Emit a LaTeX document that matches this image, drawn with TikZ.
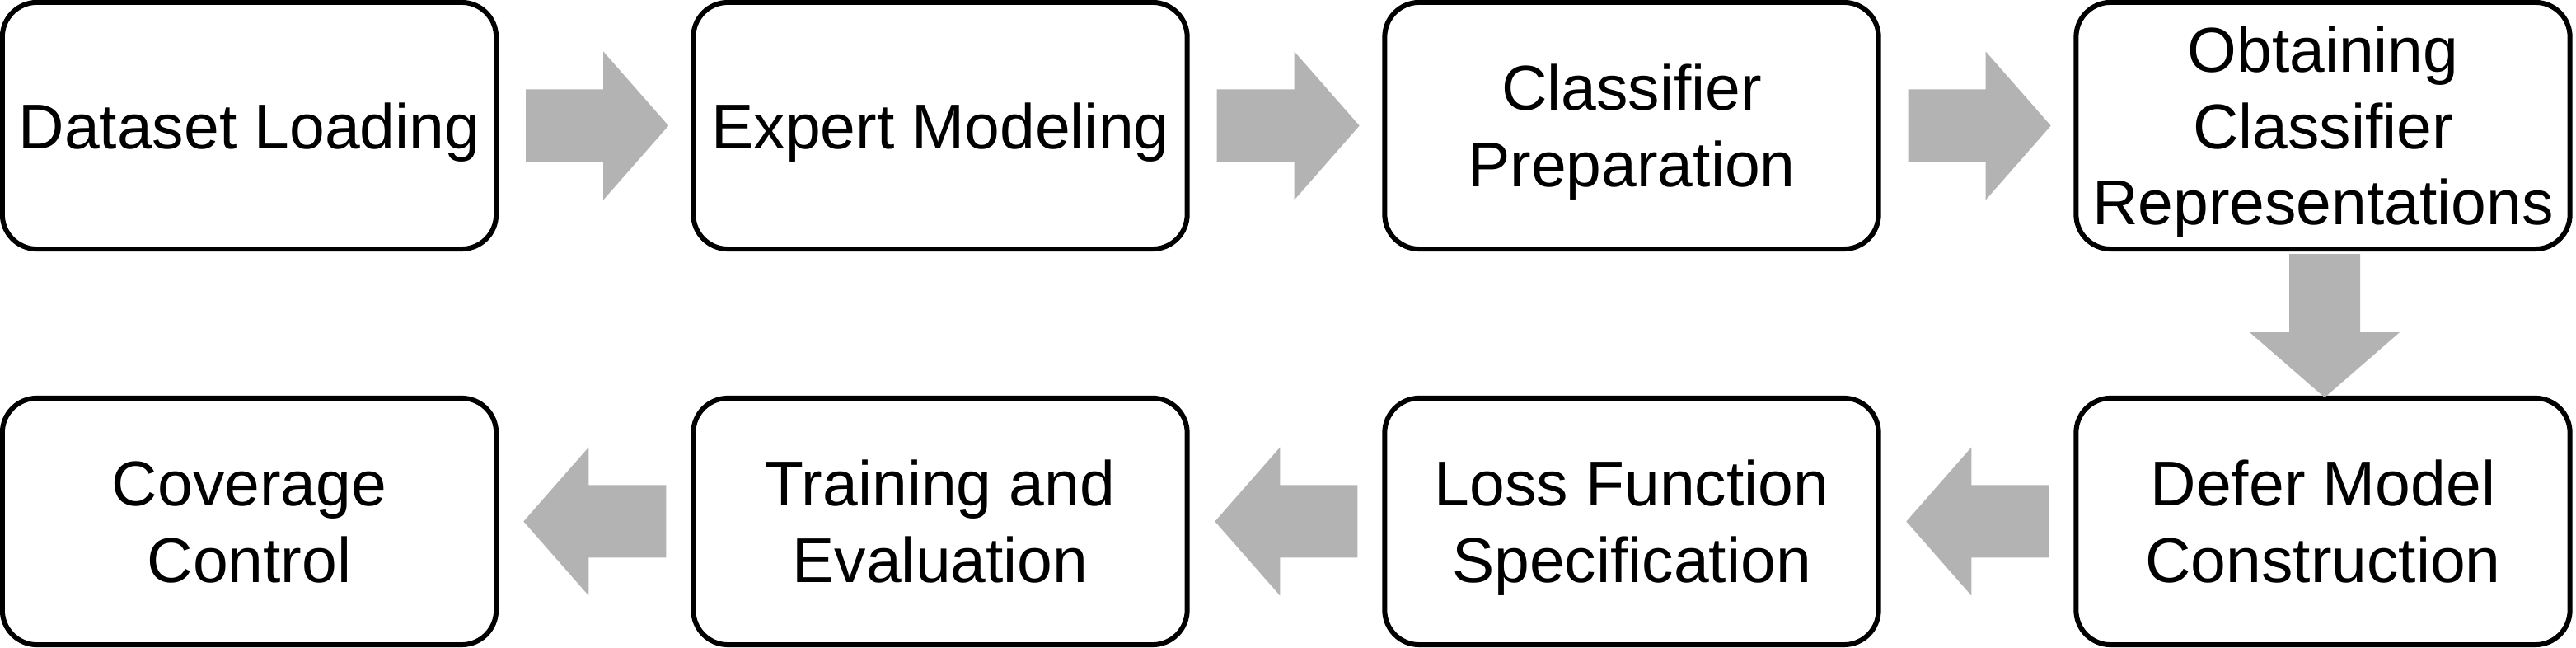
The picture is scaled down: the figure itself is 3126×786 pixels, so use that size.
\documentclass[tikz,border=0pt]{standalone}
\usepackage{fontspec}
\setmainfont{Liberation Sans}
\usetikzlibrary{calc}
\definecolor{arrowgray}{RGB}{179,179,179}
\newcommand\lstrut{\rule[-4.55pt]{0pt}{24.75pt}}
\tikzset{
  stepbox/.style={draw=black, line width=1.71pt, rounded corners=0.42cm, minimum width=5.99cm, minimum height=2.99cm, inner sep=0pt, align=center, font=\fontsize{21.85}{26.2}\selectfont},
  pics/rarrow/.style={code={\fill[arrowgray] (0,-44)--(94,-44)--(94,-90)--(173,0)--(94,90)--(94,44)--(0,44)--cycle;}},
  pics/larrow/.style={code={\fill[arrowgray] (0,-44)--(-94,-44)--(-94,-90)--(-173,0)--(-94,90)--(-94,44)--(0,44)--cycle;}},
  pics/darrow/.style={code={\fill[arrowgray] (-43,0)--(-43,95)--(-91,95)--(0,174)--(91,95)--(43,95)--(43,0)--cycle;}}
}
\begin{document}
\begin{tikzpicture}[x=0.01cm,y=-0.01cm]
\useasboundingbox (0,0) rectangle (3126,786);
\node[stepbox] (b1) at (302.5,152.5) {\lstrut Dataset Loading};
\node[stepbox] (b2) at (1141,152.5) {\lstrut Expert Modeling};
\node[stepbox] (b3) at (1980,152.5) {\lstrut Classifier\\\lstrut Preparation};
\node[stepbox] (b4) at (2819,152.5) {\lstrut Obtaining\\\lstrut Classifier\\\lstrut Representations};
\node[stepbox] (b5) at (2819,632.5) {\lstrut Defer Model\\\lstrut Construction};
\node[stepbox] (b6) at (1980,632.5) {\lstrut Loss Function\\\lstrut Specification};
\node[stepbox] (b7) at (1141,632.5) {\lstrut Training and\\\lstrut Evaluation};
\node[stepbox] (b8) at (302.5,632.5) {\lstrut Coverage\\\lstrut Control};
\path ($(b1.east)+(33,0)$) pic {rarrow};
\path ($(b2.east)+(33,0)$) pic {rarrow};
\path ($(b3.east)+(33,0)$) pic {rarrow};
\path ($(b4.south)+(2,3)$) pic {darrow};
\path ($(b5.west)+(-30,0)$) pic {larrow};
\path ($(b6.west)+(-30,0)$) pic {larrow};
\path ($(b7.west)+(-30,0)$) pic {larrow};
\end{tikzpicture}
\end{document}
